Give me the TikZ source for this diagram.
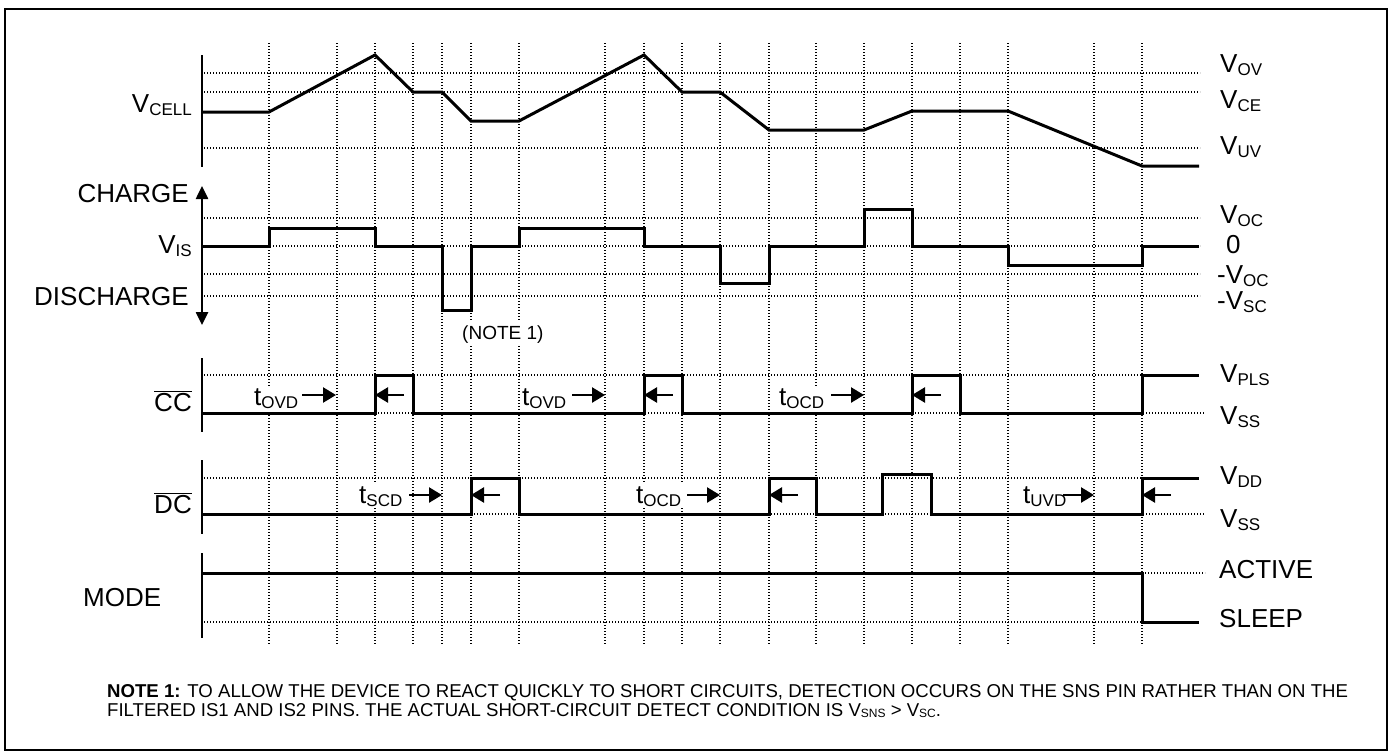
\documentclass[tikz,border=0pt]{standalone}
\usepackage{fontspec}
\setmainfont{Liberation Sans}
\usetikzlibrary{arrows.meta}
\newcommand\lo[1]{\raisebox{-3pt}{\fontsize{17}{17}\selectfont #1}}
\newcommand\lon[1]{\raisebox{-1.5pt}{\fontsize{12}{12}\selectfont #1}}
\begin{document}
\begin{tikzpicture}[x=1pt,y=-1pt,
  sig/.style={line width=3pt, line join=miter},
  axisline/.style={line width=2.5pt},
  gridline/.style={line width=1.1pt, dash pattern=on 1.1pt off 1.9pt},
  lbl/.style={font=\fontsize{26}{30}\selectfont, inner sep=0pt},
  tlbl/.style={font=\fontsize{26}{30}\selectfont, inner sep=2pt, fill=white},
  notetext/.style={font=\fontsize{18.6}{20}\selectfont, inner sep=0pt, anchor=base west},
  tarrow/.style={line width=2.5pt, -{Triangle[length=13pt,width=15pt]}},
  vtip/.style={line width=2.5pt, {Triangle[length=13pt,width=12pt]}-{Triangle[length=13pt,width=12pt]}}]
\path[use as bounding box] (0,0) rectangle (1392,755);
\draw[line width=2pt] (5,9) rectangle (1387,750);

% vertical grid
\foreach \x in {269,337,375,413,442,471,519,605,644,682,720,769,816,864,912,960,1008,1094,1142}
  \draw[gridline] (\x,43) -- (\x,644);

% white label boxes (hide grid)
\node[tlbl, anchor=base west] (tovd1) at (252,405) {t\lo{OVD}};
\node[tlbl, anchor=base west] (tovd2) at (520,405) {t\lo{OVD}};
\node[tlbl, anchor=base west] (tocd1) at (777,405) {t\lo{OCD}};
\node[tlbl, anchor=base west] (tscd) at (357,503) {t\lo{SCD}};
\node[tlbl, anchor=base west] (tocd2) at (634,503) {t\lo{OCD}};
\node[tlbl, anchor=base west] (tuvd) at (1021,503) {t\lo{UVD}};
\node[font=\fontsize{19}{21}\selectfont, fill=white, inner sep=3pt, anchor=base west] (note1) at (459,339) {(NOTE 1)};

% horizontal dotted lines
\foreach \y in {73,92,148,218,246,274,296}
  \draw[gridline] (204,\y) -- (1200,\y);
\draw[gridline] (204,375) -- (1199,375);
\draw[gridline] (204,413) -- (1205,413);
\draw[gridline] (204,478) -- (1199,478);
\draw[gridline] (204,514) -- (1205,514);
\draw[gridline] (1142,573) -- (1205,573);
\draw[gridline] (204,622) -- (1142,622);

% axes
\draw[axisline] (202,55) -- (202,167);
\draw[vtip] (202,186) -- (202,325);
\draw[axisline] (202,358) -- (202,432);
\draw[axisline] (202,460) -- (202,534);
\draw[axisline] (202,553) -- (202,638);

% signals
\draw[sig] (202,112) -- (269,112) -- (375,55) -- (413,92) -- (442,92) -- (471,121) -- (519,121) -- (644,55) -- (682,92) -- (720,92) -- (769,130) -- (864,130) -- (912,111) -- (1008,111) -- (1142,166) -- (1199,166);
\draw[sig] (202,246) -- (269,246) -- (269,228) -- (375,228) -- (375,246) -- (442,246) -- (442,310) -- (471,310) -- (471,246) -- (519,246) -- (519,228) -- (644,228) -- (644,246) -- (720,246) -- (720,283) -- (769,283) -- (769,246) -- (864,246) -- (864,209) -- (912,209) -- (912,246) -- (1008,246) -- (1008,265) -- (1142,265) -- (1142,246) -- (1199,246);
\draw[sig] (202,413) -- (375,413) -- (375,375) -- (413,375) -- (413,413) -- (644,413) -- (644,375) -- (682,375) -- (682,413) -- (912,413) -- (912,375) -- (960,375) -- (960,413) -- (1142,413) -- (1142,375) -- (1199,375);
\draw[sig] (202,514) -- (471,514) -- (471,478) -- (519,478) -- (519,514) -- (769,514) -- (769,478) -- (816,478) -- (816,514) -- (882,514) -- (882,474) -- (931,474) -- (931,514) -- (1142,514) -- (1142,478) -- (1199,478);
\draw[sig] (202,573) -- (1142,573) -- (1142,622) -- (1199,622);

% timing arrows
\draw[tarrow] (302,395) -- (336,395);
\draw[tarrow] (404,395) -- (375,395);
\draw[tarrow] (572,395) -- (605,395);
\draw[tarrow] (673,395) -- (644,395);
\draw[tarrow] (831,395) -- (864,395);
\draw[tarrow] (941,395) -- (912,395);
\draw[tarrow] (409,495) -- (442,495);
\draw[tarrow] (500,495) -- (471,495);
\draw[tarrow] (687,495) -- (720,495);
\draw[tarrow] (798,495) -- (769,495);
\draw[tarrow] (1063,495) -- (1094,495);
\draw[tarrow] (1171,495) -- (1142,495);

% left labels
\node[lbl, anchor=base east] (vcell) at (192,112) {V\lo{CELL}};
\node[lbl, anchor=base east] (charge) at (189,202) {CHARGE};
\node[lbl, anchor=base east] (vis) at (192,253) {V\lo{IS}};
\node[lbl, anchor=base east] (discharge) at (189,305) {DISCHARGE};
\node[lbl, anchor=base east] (cc) at (192,411) {$\overline{\mbox{CC}}$};
\node[lbl, anchor=base east] (dc) at (192,513) {$\overline{\mbox{DC}}$};
\node[lbl, anchor=base west] (mode) at (83,606) {MODE};

% right labels
\node[lbl, anchor=base west] (vov) at (1220,72) {V\lo{OV}};
\node[lbl, anchor=base west] (vce) at (1220,108) {V\lo{CE}};
\node[lbl, anchor=base west] (vuv) at (1220,154) {V\lo{UV}};
\node[lbl, anchor=base west] (voc) at (1220,223) {V\lo{OC}};
\node[lbl, anchor=base west] (zero) at (1226,253) {0};
\node[lbl, anchor=base west] (mvoc) at (1217,283) {-V\lo{OC}};
\node[lbl, anchor=base west] (mvsc) at (1217,309) {-V\lo{SC}};
\node[lbl, anchor=base west] (vpls) at (1220,382) {V\lo{PLS}};
\node[lbl, anchor=base west] (vss1) at (1220,424) {V\lo{SS}};
\node[lbl, anchor=base west] (vdd) at (1220,484) {V\lo{DD}};
\node[lbl, anchor=base west] (vss2) at (1220,527) {V\lo{SS}};
\node[lbl, anchor=base west] (active) at (1219,578) {ACTIVE};
\node[lbl, anchor=base west] (sleep) at (1219,627) {SLEEP};

% note
\node[notetext] (noteA) at (107,697) {\textbf{NOTE 1:} TO ALLOW THE DEVICE TO REACT QUICKLY TO SHORT CIRCUITS, DETECTION OCCURS ON THE SNS PIN RATHER THAN ON THE};
\node[notetext] (noteB) at (107,716) {FILTERED IS1 AND IS2 PINS. THE ACTUAL SHORT-CIRCUIT DETECT CONDITION IS V\lon{SNS} > V\lon{SC}.};
\end{tikzpicture}
\end{document}
